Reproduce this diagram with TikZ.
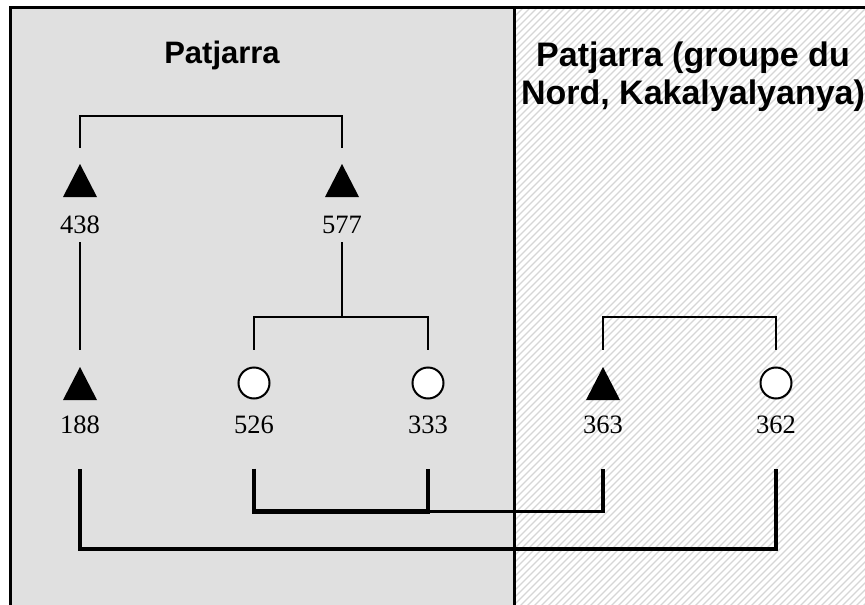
\documentclass[tikz,border=0pt]{standalone}
\usepackage{fontspec}
\setmainfont{Liberation Serif}
\newfontfamily\titlefont{Liberation Sans}
\usetikzlibrary{calc}
\definecolor{panelgray}{HTML}{E0E0E0}
\definecolor{hatchgray}{HTML}{D6D6D6}
\begin{document}
\begin{tikzpicture}[x=1pt,y=-1pt,
  tri/.style={minimum width=34pt,minimum height=33pt,inner sep=0pt,
    path picture={\fill[black] (path picture bounding box.south west) -- (path picture bounding box.south east) -- (path picture bounding box.north) -- cycle;}},
  circ/.style={circle,draw=black,line width=2pt,fill=white,minimum size=31pt,inner sep=0pt},
  num/.style={font=\fontsize{26.5}{31}\selectfont,inner sep=0pt},
  kin/.style={line width=2pt},
  link/.style={line width=4.5pt},
  linkthin/.style={line width=3.6pt},
  titleA/.style={font=\titlefont\bfseries\fontsize{31}{37}\selectfont,inner sep=0pt},
  titleB/.style={font=\titlefont\bfseries\fontsize{34}{38}\selectfont,inner sep=0pt,align=center},
  frameline/.style={line width=3pt}]
\useasboundingbox (0,0) rectangle (865,605);
% backgrounds
\fill[white] (0,0) rectangle (865,605);
\fill[panelgray] (10,8) rectangle (514,605);
\begin{scope}
  \clip (514,8) rectangle (865,605);
  \foreach \a in {-100,-93,...,870} \draw[hatchgray,line width=1.1pt] (\a,610) -- ({\a+610},0);
\end{scope}
\draw[frameline] (10.5,605) -- (10.5,7.5) -- (865,7.5);
\draw[line width=2.5pt] (514.3,7.5) -- (514.3,605);
% titles
\node[titleA,anchor=base] (t1) at (222,63) {Patjarra};
\node[titleB] (t2) at (693,77) {Patjarra (groupe du\\Nord, Kakalyalyanya)};
% people
\node[tri]  (p438) at (80,180.5) {};
\node[tri]  (p577) at (342,180.5) {};
\node[tri]  (p188) at (80,383.5) {};
\node[circ] (p526) at (254,383) {};
\node[circ] (p333) at (428,383) {};
\node[tri]  (p363) at (603,383.5) {};
\node[circ] (p362) at (776,383) {};
% labels
\node[num] (l438) at (80,225) {438};
\node[num] (l577) at (342,225) {577};
\node[num] (l188) at (80,425) {188};
\node[num] (l526) at (254,425) {526};
\node[num] (l333) at (428,425) {333};
\node[num] (l363) at (603,425) {363};
\node[num] (l362) at (776,425) {362};
% kinship brackets
\draw[kin] ($(p438.north)+(0,-16)$) -- ++(0,-32) -| ($(p577.north)+(0,-16)$);
\draw[kin] ($(l438.south)+(0,8)$) -- ($(p188.north)+(0,-17)$);
\coordinate (j526) at ($(p526.north)+(0,-50)$);
\draw[kin] ($(l577.south)+(0,8)$) -- (l577.south |- j526);
\draw[kin] ($(p526.north)+(0,-17)$) -- (j526) -| ($(p333.north)+(0,-17)$);
\draw[kin] ($(p363.north)+(0,-17)$) -- ++(0,-33) -| ($(p362.north)+(0,-17)$);
% bottom links
\coordinate (m526) at ($(p526.south)+(0,112)$);
\draw[link] ($(p526.south)+(0,69)$) -- (m526) -| ($(p333.south)+(0,69)$);
\draw[linkthin] (p333.south |- m526) -| ($(p363.south)+(0,69)$);
\draw[link] ($(p188.south)+(0,69)$) -- ++(0,80) -| ($(p362.south)+(0,69)$);
\end{tikzpicture}
\end{document}
